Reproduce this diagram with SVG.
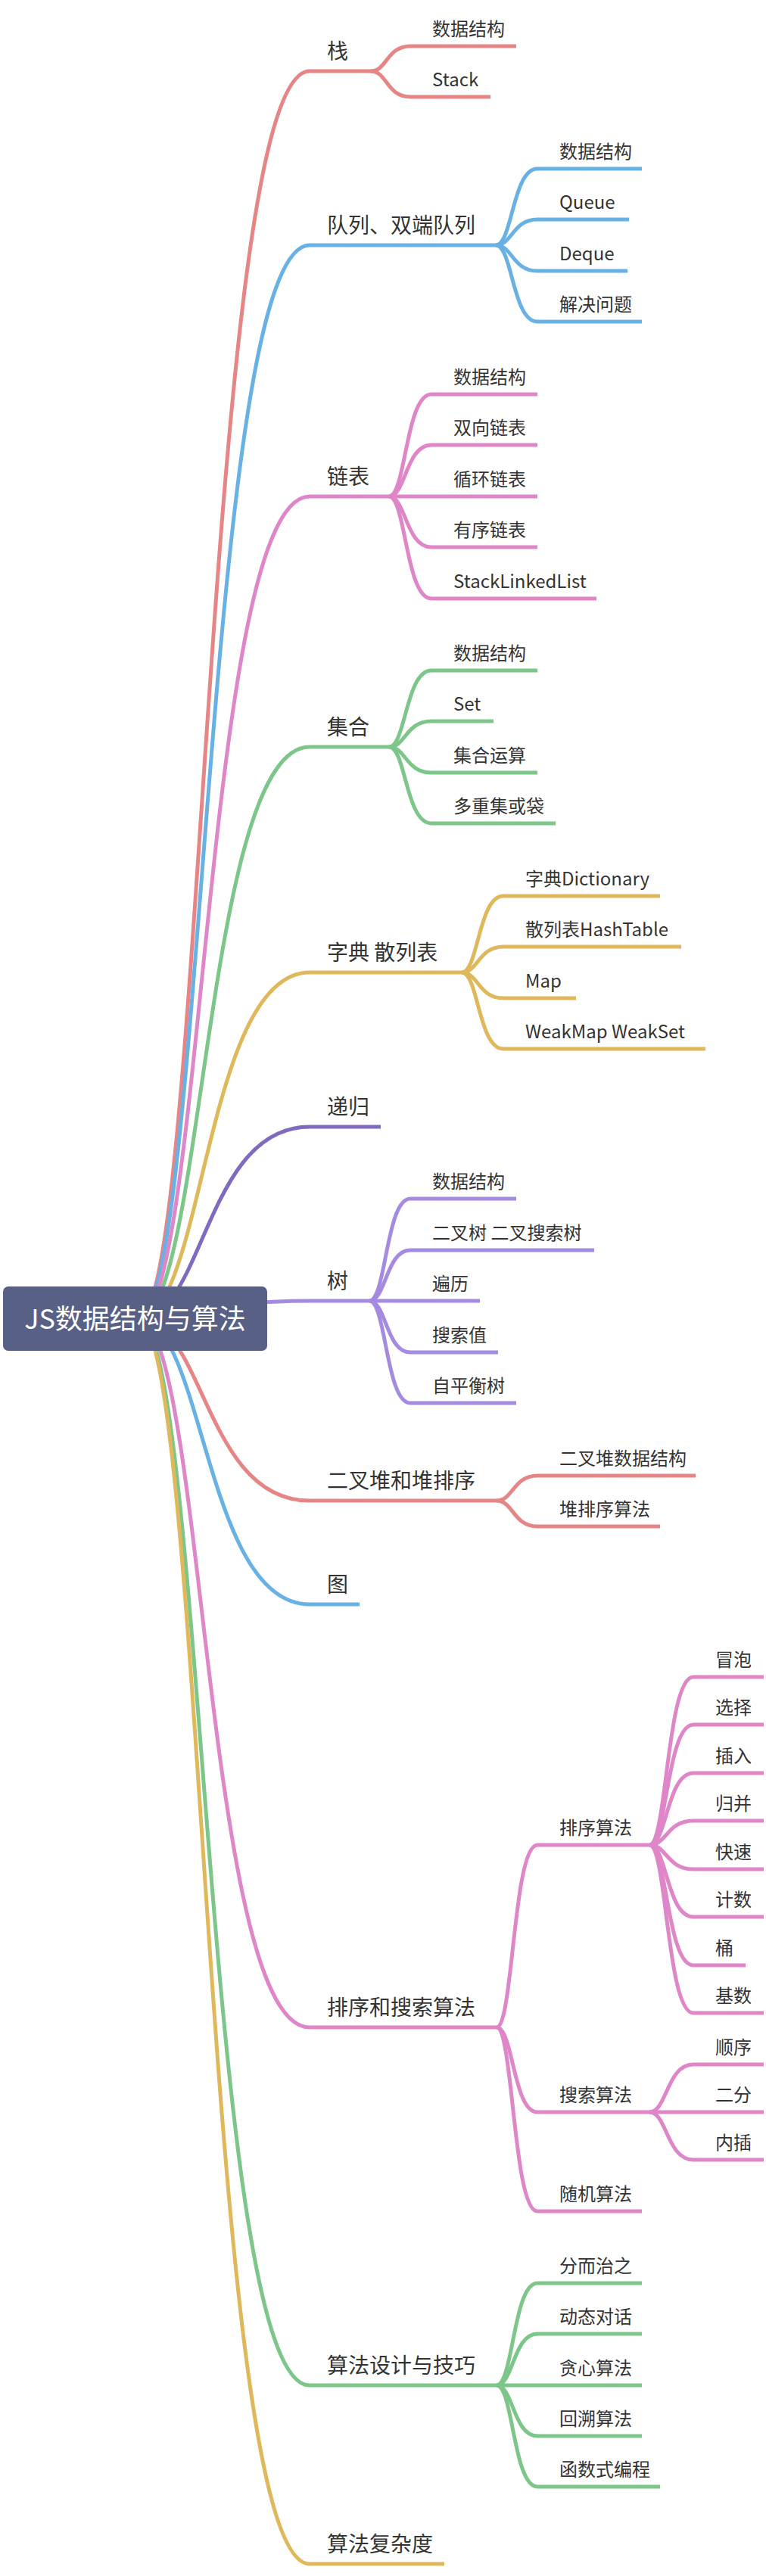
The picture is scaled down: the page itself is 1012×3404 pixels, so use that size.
<svg xmlns="http://www.w3.org/2000/svg" width="1012" height="3404" viewBox="0 0 1012 3404">
<style>
.l{fill:none;stroke-width:5;stroke-linecap:butt;stroke-linejoin:round}
.red{stroke:#E58585}.blue{stroke:#68B1E4}.pink{stroke:#DF86C8}.green{stroke:#7DC689}.gold{stroke:#DFB85C}.dpur{stroke:#806ABE}.lpur{stroke:#A48BE0}
text{font-family:"Noto Sans CJK SC","Noto Sans",sans-serif;fill:#333}
.m{font-size:28px}.s{font-size:24px}
.root{font-size:36px;fill:#ffffff;text-anchor:middle}
</style>
<rect width="1012" height="3404" fill="#ffffff"/>
<g id="connectors">
<!-- 栈 -->
<path class="l red" d="M182,1743 C270,1743 270,94 409,94 H490"/>
<path class="l red" d="M490,94 C511,94 511,61 542,61 H682"/>
<path class="l red" d="M490,94 C511,94 511,128 542,128 H648"/>
<!-- 队列 -->
<path class="l blue" d="M182,1743 C270,1743 270,324 409,324 H655"/>
<path class="l blue" d="M655,324 C677,324 677,223 710,223 H848"/>
<path class="l blue" d="M655,324 C677,324 677,290 710,290 H831"/>
<path class="l blue" d="M655,324 C677,324 677,358 710,358 H829"/>
<path class="l blue" d="M655,324 C677,324 677,425 710,425 H848"/>
<!-- 链表 -->
<path class="l pink" d="M182,1743 C270,1743 270,656 409,656 H514"/>
<path class="l pink" d="M514,656 C536,656 536,521 570,521 H710"/>
<path class="l pink" d="M514,656 C536,656 536,588 570,588 H710"/>
<path class="l pink" d="M514,656 H710"/>
<path class="l pink" d="M514,656 C536,656 536,723 570,723 H710"/>
<path class="l pink" d="M514,656 C536,656 536,791 570,791 H788"/>
<!-- 集合 -->
<path class="l green" d="M182,1743 C270,1743 270,987 409,987 H514"/>
<path class="l green" d="M514,987 C536,987 536,886 570,886 H710"/>
<path class="l green" d="M514,987 C536,987 536,953 570,953 H652"/>
<path class="l green" d="M514,987 C536,987 536,1021 570,1021 H710"/>
<path class="l green" d="M514,987 C536,987 536,1088 570,1088 H734"/>
<!-- 字典 散列表 -->
<path class="l gold" d="M182,1743 C270,1743 270,1285 409,1285 H610"/>
<path class="l gold" d="M610,1285 C632,1285 632,1184 665,1184 H872"/>
<path class="l gold" d="M610,1285 C632,1285 632,1251 665,1251 H900"/>
<path class="l gold" d="M610,1285 C632,1285 632,1319 665,1319 H761"/>
<path class="l gold" d="M610,1285 C632,1285 632,1386 665,1386 H932"/>
<!-- 递归 -->
<path class="l dpur" d="M182,1743 C270,1743 270,1489 409,1489 H503"/>
<!-- 树 -->
<path class="l lpur" d="M182,1743 C270,1743 270,1719 409,1719 H488"/>
<path class="l lpur" d="M488,1719 C510,1719 510,1584 542,1584 H682"/>
<path class="l lpur" d="M488,1719 C510,1719 510,1652 542,1652 H785"/>
<path class="l lpur" d="M488,1719 H634"/>
<path class="l lpur" d="M488,1719 C510,1719 510,1787 542,1787 H658"/>
<path class="l lpur" d="M488,1719 C510,1719 510,1854 542,1854 H682"/>
<!-- 二叉堆和堆排序 -->
<path class="l red" d="M182,1743 C270,1743 270,1983 409,1983 H656"/>
<path class="l red" d="M656,1983 C678,1983 678,1950 710,1950 H919"/>
<path class="l red" d="M656,1983 C678,1983 678,2017 710,2017 H872"/>
<!-- 图 -->
<path class="l blue" d="M182,1743 C270,1743 270,2120 409,2120 H475"/>
<!-- 排序和搜索算法 -->
<path class="l pink" d="M182,1743 C270,1743 270,2679 409,2679 H656"/>
<path class="l pink" d="M656,2679 C678,2679 678,2438 710,2438 H858"/>
<path class="l pink" d="M656,2679 C678,2679 678,2791 710,2791 H858"/>
<path class="l pink" d="M656,2679 C678,2679 678,2922 710,2922 H848"/>
<path class="l pink" d="M858,2438 C881,2438 881,2216 916,2216 H1009"/>
<path class="l pink" d="M858,2438 C881,2438 881,2279 916,2279 H1009"/>
<path class="l pink" d="M858,2438 C881,2438 881,2343 916,2343 H1009"/>
<path class="l pink" d="M858,2438 C881,2438 881,2406 916,2406 H1009"/>
<path class="l pink" d="M858,2438 C881,2438 881,2470 916,2470 H1009"/>
<path class="l pink" d="M858,2438 C881,2438 881,2533 916,2533 H1009"/>
<path class="l pink" d="M858,2438 C881,2438 881,2597 916,2597 H985"/>
<path class="l pink" d="M858,2438 C881,2438 881,2660 916,2660 H1009"/>
<path class="l pink" d="M858,2791 C881,2791 881,2728 916,2728 H1009"/>
<path class="l pink" d="M858,2791 H1009"/>
<path class="l pink" d="M858,2791 C881,2791 881,2854 916,2854 H1009"/>
<!-- 算法设计与技巧 -->
<path class="l green" d="M182,1743 C270,1743 270,3152 409,3152 H656"/>
<path class="l green" d="M656,3152 C678,3152 678,3017 710,3017 H848"/>
<path class="l green" d="M656,3152 C678,3152 678,3084 710,3084 H848"/>
<path class="l green" d="M656,3152 H848"/>
<path class="l green" d="M656,3152 C678,3152 678,3219 710,3219 H848"/>
<path class="l green" d="M656,3152 C678,3152 678,3286 710,3286 H872"/>
<!-- 算法复杂度 -->
<path class="l gold" d="M182,1743 C270,1743 270,3388 409,3388 H587"/>
</g>
<g id="root">
<rect x="4" y="1700" width="349" height="85" rx="7" fill="#586086"/>
<text class="root" x="178.5" y="1756">JS数据结构与算法</text>
</g>
<g id="n-stack"><text class="m" x="432" y="78">栈</text>
<text class="s" x="571" y="47">数据结构</text><text class="s" x="571" y="114">Stack</text></g>
<g id="n-queue"><text class="m" x="432" y="308">队列、双端队列</text>
<text class="s" x="739" y="209">数据结构</text><text class="s" x="739" y="276">Queue</text><text class="s" x="739" y="344">Deque</text><text class="s" x="739" y="411">解决问题</text></g>
<g id="n-linked"><text class="m" x="432" y="640">链表</text>
<text class="s" x="599" y="507">数据结构</text><text class="s" x="599" y="574">双向链表</text><text class="s" x="599" y="642">循环链表</text><text class="s" x="599" y="709">有序链表</text><text class="s" x="599" y="777">StackLinkedList</text></g>
<g id="n-set"><text class="m" x="432" y="971">集合</text>
<text class="s" x="599" y="872">数据结构</text><text class="s" x="599" y="939">Set</text><text class="s" x="599" y="1007">集合运算</text><text class="s" x="599" y="1074">多重集或袋</text></g>
<g id="n-dict"><text class="m" x="432" y="1269">字典 散列表</text>
<text class="s" x="694" y="1170">字典Dictionary</text><text class="s" x="694" y="1237">散列表HashTable</text><text class="s" x="694" y="1305">Map</text><text class="s" x="694" y="1372">WeakMap WeakSet</text></g>
<g id="n-recursion"><text class="m" x="432" y="1473">递归</text></g>
<g id="n-tree"><text class="m" x="432" y="1703">树</text>
<text class="s" x="571" y="1570">数据结构</text><text class="s" x="571" y="1638">二叉树 二叉搜索树</text><text class="s" x="571" y="1705">遍历</text><text class="s" x="571" y="1773">搜索值</text><text class="s" x="571" y="1840">自平衡树</text></g>
<g id="n-heap"><text class="m" x="432" y="1967">二叉堆和堆排序</text>
<text class="s" x="739" y="1936">二叉堆数据结构</text><text class="s" x="739" y="2003">堆排序算法</text></g>
<g id="n-graph"><text class="m" x="432" y="2104">图</text></g>
<g id="n-sort"><text class="m" x="432" y="2663">排序和搜索算法</text>
<text class="s" x="739" y="2424">排序算法</text><text class="s" x="739" y="2777">搜索算法</text><text class="s" x="739" y="2908">随机算法</text>
<text class="s" x="945" y="2202">冒泡</text><text class="s" x="945" y="2265">选择</text><text class="s" x="945" y="2329">插入</text><text class="s" x="945" y="2392">归并</text><text class="s" x="945" y="2456">快速</text><text class="s" x="945" y="2519">计数</text><text class="s" x="945" y="2583">桶</text><text class="s" x="945" y="2646">基数</text>
<text class="s" x="945" y="2714">顺序</text><text class="s" x="945" y="2777">二分</text><text class="s" x="945" y="2840">内插</text></g>
<g id="n-design"><text class="m" x="432" y="3136">算法设计与技巧</text>
<text class="s" x="739" y="3003">分而治之</text><text class="s" x="739" y="3070">动态对话</text><text class="s" x="739" y="3138">贪心算法</text><text class="s" x="739" y="3205">回溯算法</text><text class="s" x="739" y="3272">函数式编程</text></g>
<g id="n-complexity"><text class="m" x="432" y="3372">算法复杂度</text></g>
</svg>
